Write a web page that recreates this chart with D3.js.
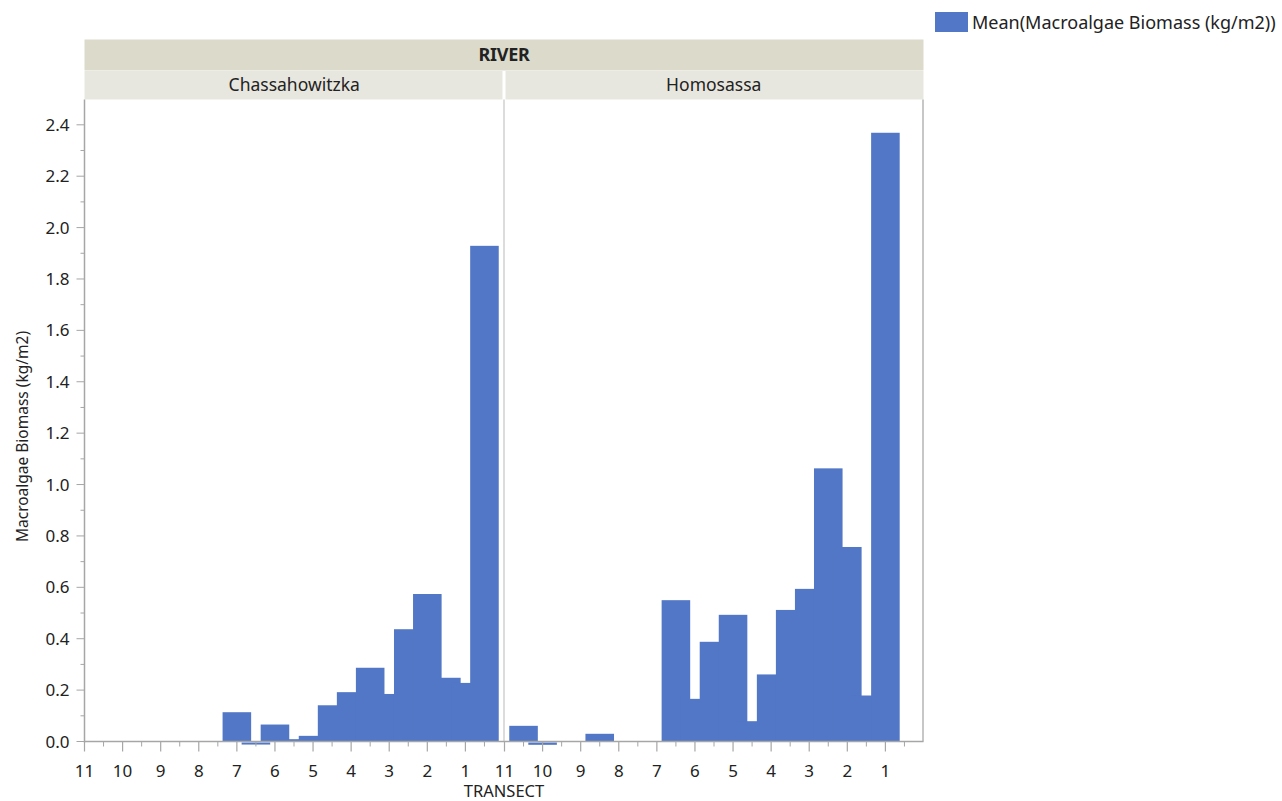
<!DOCTYPE html>
<html>
<head>
<meta charset="utf-8">
<script src="https://cdn.jsdelivr.net/npm/d3@7"></script>
<style>
  html, body { margin: 0; padding: 0; background: #ffffff; }
  svg { display: block; }
  text { font-family: "Noto Sans", "Open Sans", sans-serif; fill: #222; }
</style>
</head>
<body>
<script>
// ---- data ----
const rivers = ["Chassahowitzka", "Homosassa"];
const xTicks = [11, 10, 9, 8, 7, 6, 5, 4, 3, 2, 1];
const yTicks = [0.0, 0.2, 0.4, 0.6, 0.8, 1.0, 1.2, 1.4, 1.6, 1.8, 2.0, 2.2, 2.4];
const chassTransect = [7, 6.5, 6, 5.5, 5, 4.5, 4, 3.5, 3, 2.5, 2, 1.5, 1, 0.5];
const chassBiomass  = [0.114, -0.008, 0.066, 0.009, 0.022, 0.141, 0.192, 0.287, 0.185, 0.437, 0.574, 0.248, 0.228, 1.929];
const homoTransect  = [10.5, 10, 8.5, 6.5, 6, 5.5, 5, 4.5, 4, 3.5, 3, 2.5, 2, 1.5, 1];
const homoBiomass   = [0.061, -0.009, 0.030, 0.550, 0.166, 0.388, 0.493, 0.079, 0.261, 0.512, 0.594, 1.063, 0.757, 0.179, 2.369];
const barWidthUnits = 0.75;

const panels = [
  { name: rivers[0], t: chassTransect, v: chassBiomass },
  { name: rivers[1], t: homoTransect, v: homoBiomass }
];

const W = 1282, H = 801;
const svg = d3.select("body").append("svg").attr("width", W).attr("height", H);

const barColor = "#5277c6";
const axisColor = "#a6a6a6";

const plotLeft = 84.5, plotRight = 923.5, plotTop = 99.5;
const panelW = (plotRight - plotLeft) / 2;

const y = d3.scaleLinear().domain([0, 2.4]).range([741.5, 124.8]);

// header bands
svg.append("rect").attr("x", plotLeft).attr("y", 39.5).attr("width", plotRight - plotLeft).attr("height", 31)
  .attr("fill", "#dcdacb");
svg.append("text").attr("x", (plotLeft + plotRight) / 2).attr("y", 61).attr("text-anchor", "middle")
  .style("font-weight", "bold").style("font-size", "18px").style("letter-spacing", "-0.3px").text("RIVER");

panels.forEach((p, i) => {
  const x0 = plotLeft + i * panelW;
  const x1 = x0 + panelW;
  p.x = d3.scaleLinear().domain([11, 0]).range([x0 + (i ? 0.5 : 0), x1 - (i ? 0 : 0.5)]);
  svg.append("rect").attr("x", x0 + (i ? 1.5 : 0)).attr("y", 71).attr("width", panelW - 1.5).attr("height", 28.5)
    .attr("fill", "#e8e7df");
  svg.append("text").attr("x", (x0 + x1) / 2).attr("y", 91).attr("text-anchor", "middle")
    .style("font-size", "17.5px").text(p.name);
});

// bars
const g = svg.append("g");
panels.forEach(p => {
  const data = p.t.map((t, k) => ({ t, v: p.v[k] }));
  g.selectAll(null).data(data).enter().append("rect")
    .attr("x", d => p.x(d.t + barWidthUnits / 2))
    .attr("width", d => p.x(d.t - barWidthUnits / 2) - p.x(d.t + barWidthUnits / 2))
    .attr("y", d => d.v >= 0 ? y(d.v) : y(0) + 1)
    .attr("height", d => d.v >= 0 ? y(0) - y(d.v) : Math.max(1.5, y(d.v) - y(0)))
    .attr("fill", barColor);
});

// panel divider and right frame
svg.append("line").attr("x1", plotLeft + panelW).attr("x2", plotLeft + panelW)
  .attr("y1", plotTop).attr("y2", y(0)).attr("stroke", "#dcdcdc").attr("stroke-width", 2);
svg.append("line").attr("x1", plotRight - 0.5).attr("x2", plotRight - 0.5)
  .attr("y1", plotTop).attr("y2", y(0)).attr("stroke", "#b4b4b4").attr("stroke-width", 1.5);

// y axis
const yAxis = svg.append("g");
yAxis.append("line").attr("x1", plotLeft).attr("x2", plotLeft).attr("y1", plotTop).attr("y2", y(0) + 1)
  .attr("stroke", axisColor).attr("stroke-width", 1.5);
const yMinor = d3.range(1, 25, 2).map(k => k / 10);
yAxis.selectAll(null).data(yMinor).enter().append("line")
  .attr("x1", plotLeft - 4).attr("x2", plotLeft).attr("y1", d => y(d)).attr("y2", d => y(d))
  .attr("stroke", axisColor).attr("stroke-width", 1);
yAxis.selectAll(null).data(yTicks).enter().append("line")
  .attr("x1", plotLeft - 8).attr("x2", plotLeft).attr("y1", d => y(d)).attr("y2", d => y(d))
  .attr("stroke", axisColor).attr("stroke-width", 1);
yAxis.selectAll(null).data(yTicks).enter().append("text")
  .attr("x", plotLeft - 15).attr("y", d => y(d) + 6).attr("text-anchor", "end")
  .style("font-size", "17px").text(d => d3.format(".1f")(d));

svg.append("text").attr("transform", `translate(28,${(plotTop + y(0)) / 2 + 16}) rotate(-90)`)
  .attr("text-anchor", "middle").style("font-size", "15.5px").text("Macroalgae Biomass (kg/m2)");

// x axis
svg.append("line").attr("x1", plotLeft).attr("x2", plotRight).attr("y1", y(0)).attr("y2", y(0))
  .attr("stroke", axisColor).attr("stroke-width", 1.5);
panels.forEach(p => {
  const minor = d3.range(1, 22, 2).map(k => k / 2);
  svg.selectAll(null).data(minor).enter().append("line")
    .attr("x1", d => p.x(d)).attr("x2", d => p.x(d)).attr("y1", y(0)).attr("y2", y(0) + 5)
    .attr("stroke", axisColor).attr("stroke-width", 1);
  svg.selectAll(null).data(xTicks).enter().append("text")
    .attr("x", d => p.x(d)).attr("y", y(0) + 35).attr("text-anchor", "middle")
    .style("font-size", "17px").text(d => d);
  svg.selectAll(null).data(xTicks).enter().append("line")
    .attr("x1", d => p.x(d)).attr("x2", d => p.x(d)).attr("y1", y(0)).attr("y2", y(0) + 10)
    .attr("stroke", axisColor).attr("stroke-width", 1.2);
});
svg.append("text").attr("x", (plotLeft + plotRight) / 2).attr("y", 797).attr("text-anchor", "middle")
  .style("font-size", "16.5px").text("TRANSECT");

// legend
svg.append("rect").attr("x", 935).attr("y", 12).attr("width", 33).attr("height", 20).attr("fill", barColor);
svg.append("text").attr("x", 972).attr("y", 28.5).style("font-size", "18px")
  .text("Mean(Macroalgae Biomass (kg/m2))");
</script>
</body>
</html>
